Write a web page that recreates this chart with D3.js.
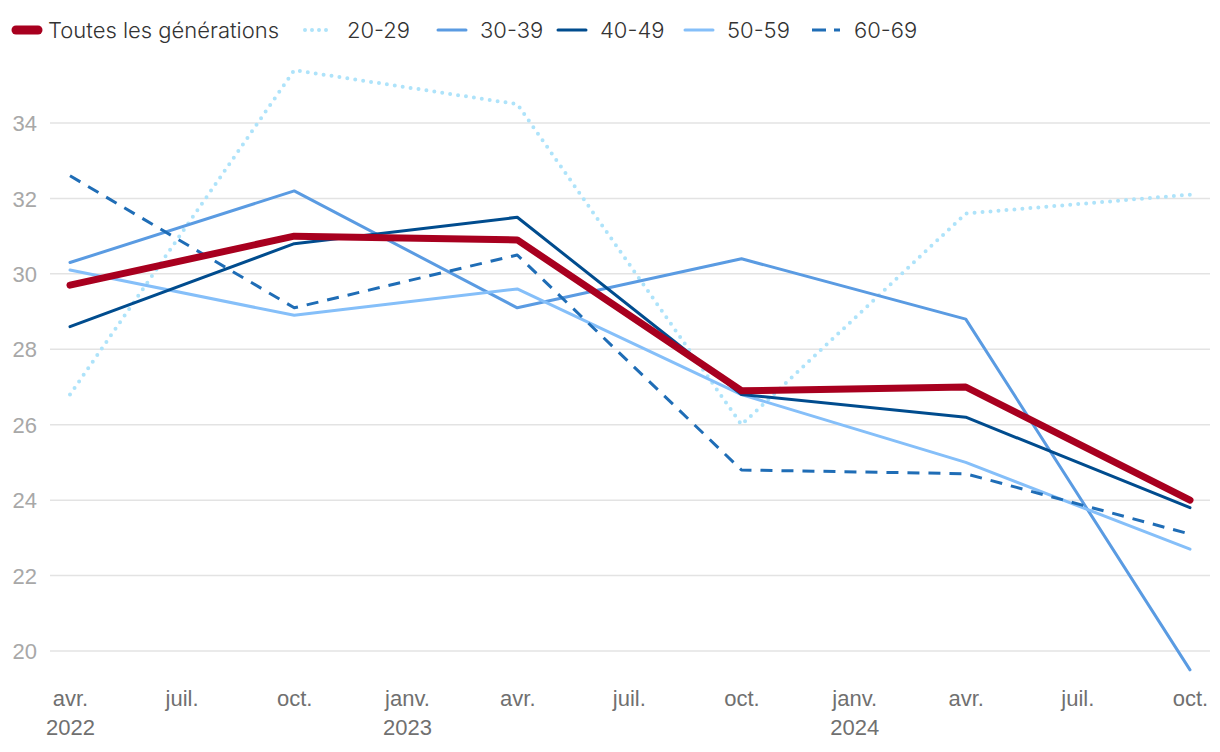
<!DOCTYPE html>
<html>
<head>
<meta charset="utf-8">
<script src="https://cdn.jsdelivr.net/npm/d3@7"></script>
<style>
  body { margin: 0; background: #fff; }
  svg { font-family: Inter, Roboto, "Noto Sans", sans-serif; }
</style>
</head>
<body>
<div id="chart"></div>
<script>
// Set width and height
var svgWidth = 1220;
var svgHeight = 752;

// Data points (semi-annual)
var dates = ["2022-04-01", "2022-10-01", "2023-04-01", "2023-10-01", "2024-04-01", "2024-10-01"];
var seriesNames = ["Toutes les générations", "20-29", "30-39", "40-49", "50-59", "60-69"];
var toutes = [29.7, 31.0, 30.9, 26.9, 27.0, 24.0];
var gen20 = [26.8, 35.4, 34.5, 26.0, 31.6, 32.1];
var gen30 = [30.3, 32.2, 29.1, 30.4, 28.8, 19.5];
var gen40 = [28.6, 30.8, 31.5, 26.8, 26.2, 23.8];
var gen50 = [30.1, 28.9, 29.6, 26.8, 25.0, 22.7];
var gen60 = [32.6, 29.1, 30.5, 24.8, 24.7, 23.1];
var yTicks = [20, 22, 24, 26, 28, 30, 32, 34];
var monthNames = ["janv.", "févr.", "mars", "avr.", "mai", "juin", "juil.", "août", "sept.", "oct.", "nov.", "déc."];

// Styles for each series
var styles = [
    { color: "#a8001f", width: 7, dash: null, cap: "round" },
    { color: "#aee3fa", width: 4, dash: "0,8", cap: "round" },
    { color: "#5a9be2", width: 3, dash: null, cap: "round" },
    { color: "#004c8e", width: 3, dash: null, cap: "round" },
    { color: "#85bff9", width: 3, dash: null, cap: "round" },
    { color: "#1f6db6", width: 3, dash: "12,9", cap: "butt" }
];
var allValues = [toutes, gen20, gen30, gen40, gen50, gen60];

var parseDate = d3.timeParse("%Y-%m-%d");
var xDates = dates.map(parseDate);

var svg = d3.select("#chart").append("svg")
    .attr("width", svgWidth)
    .attr("height", svgHeight);

// Scales
var xScale = d3.scaleTime()
    .domain([xDates[0], xDates[xDates.length - 1]])
    .range([70, 1190]);
var yScale = d3.scaleLinear()
    .domain([20, 34])
    .range([651, 123]);

// Grid lines
svg.append("g").selectAll("line")
    .data(yTicks)
    .enter().append("line")
    .attr("x1", 50)
    .attr("x2", 1210)
    .attr("y1", d => yScale(d))
    .attr("y2", d => yScale(d))
    .attr("stroke", "#e3e3e3")
    .attr("stroke-width", 1.5);

// Y axis labels
var yAxis = d3.axisLeft(yScale).tickValues(yTicks).tickSize(0).tickPadding(0);
svg.append("g")
    .attr("transform", "translate(37,0)")
    .call(yAxis)
    .call(g => g.select(".domain").remove())
    .selectAll("text")
    .attr("font-size", 22)
    .attr("font-weight", 300)
    .attr("fill", "#a8a8a8")
    .attr("dy", "0.35em");

// X axis labels (quarterly)
var xTicks = d3.timeMonth.every(3).range(xDates[0], d3.timeDay.offset(xDates[xDates.length - 1], 1));
var xAxis = d3.axisBottom(xScale).tickValues(xTicks).tickSize(0).tickFormat("");
var xg = svg.append("g")
    .attr("transform", "translate(0,683)")
    .call(xAxis);
xg.select(".domain").remove();
xg.selectAll(".tick").each(function(d, i) {
    var t = d3.select(this);
    t.append("text")
        .attr("y", 23)
        .attr("text-anchor", "middle")
        .attr("font-size", 22)
        .attr("font-weight", 300)
        .attr("fill", "#707070")
        .text(monthNames[d.getMonth()]);
    if (i === 0 || d.getMonth() === 0) {
        t.append("text")
            .attr("y", 52)
            .attr("text-anchor", "middle")
            .attr("font-size", 22)
            .attr("font-weight", 300)
            .attr("fill", "#707070")
            .text(d.getFullYear());
    }
});

// Lines
var line = d3.line()
    .x((d, i) => xScale(xDates[i]))
    .y(d => yScale(d));

var drawOrder = [1, 2, 4, 5, 3, 0];
drawOrder.forEach(function(k) {
    svg.append("path")
        .datum(allValues[k])
        .attr("d", line)
        .attr("fill", "none")
        .attr("stroke", styles[k].color)
        .attr("stroke-width", styles[k].width)
        .attr("stroke-linecap", styles[k].cap)
        .attr("stroke-linejoin", "round")
        .attr("stroke-dasharray", styles[k].dash);
});

// Legend
var legendX = [14, 305, 438, 558, 685, 812];
var legend = svg.append("g").attr("transform", "translate(0,30)");
seriesNames.forEach(function(name, k) {
    var g = legend.append("g").attr("transform", "translate(" + legendX[k] + ",0)");
    var swLen = k === 0 ? 24 : 28;
    g.append("line")
        .attr("x1", k === 0 ? 2 : 0)
        .attr("x2", swLen)
        .attr("stroke", styles[k].color)
        .attr("stroke-width", k === 0 ? 9 : styles[k].width)
        .attr("stroke-linecap", styles[k].cap)
        .attr("stroke-dasharray", k === 1 ? "0,7" : (k === 5 ? "14,8" : null));
    g.append("text")
        .attr("x", k === 0 ? 34 : 42)
        .attr("dy", "0.35em")
        .attr("font-size", 22)
        .attr("font-weight", 300)
        .attr("fill", "#333")
        .text(name);
});
</script>
</body>
</html>
